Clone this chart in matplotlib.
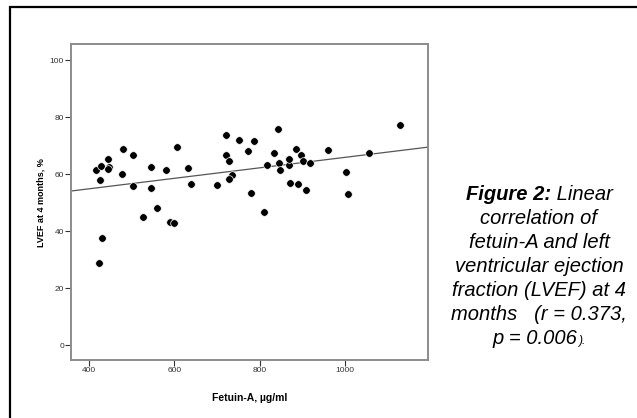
import numpy as np
import matplotlib
matplotlib.use("Agg")
import matplotlib.pyplot as plt
from matplotlib.patches import Rectangle

plt.rcParams['font.family'] = ['Liberation Sans', 'DejaVu Sans']

# Fetuin-A (ug/ml) vs LVEF at 4 months (%)
fetuin = [418, 429, 427, 444, 448, 445, 432, 424, 481, 478,
          503, 503, 545, 545, 527, 560, 581, 589, 599, 607,
          633, 639, 700, 721, 721, 729, 735, 728, 752, 773,
          787, 779, 811, 817, 833, 842, 845, 848, 868, 868,
          870, 884, 890, 897, 901, 909, 917, 960, 1001, 1006,
          1056, 1127]
lvef = [61.4, 63.0, 57.9, 65.5, 62.6, 61.7, 37.5, 29.0, 68.8, 60.2,
        66.9, 55.7, 62.7, 55.2, 45.1, 48.2, 61.4, 43.3, 42.9, 69.5,
        62.3, 56.7, 56.2, 73.9, 66.7, 64.8, 59.8, 58.2, 72.0, 68.1,
        71.6, 53.4, 46.8, 63.2, 67.3, 76.0, 64.1, 61.5, 63.3, 65.5,
        57.0, 68.7, 56.5, 66.6, 64.8, 54.4, 64.0, 68.5, 60.7, 52.9,
        67.6, 77.3]

x_ticks = [400, 600, 800, 1000]
y_ticks = [0, 20, 40, 60, 80, 100]

caption = ["correlation of", "fetuin-A and left", "ventricular ejection",
           "fraction (LVEF) at 4", "months   (r = 0.373,"]

fig = plt.figure(figsize=(6.37, 4.18), dpi=100)
ax = fig.add_axes([71 / 637, 1 - 360 / 418, 357 / 637, 315.7 / 418])

ax.scatter(fetuin, lvef, s=30, c='black', edgecolors='white', linewidths=0.5, zorder=3)

# least squares fit line across the whole x range
xlim = (358.6, 1193.3)
slope, icpt = np.polyfit(fetuin, lvef, 1)
xs = np.array(xlim)
ax.plot(xs, icpt + slope * xs, color='#555555', lw=0.9, zorder=2)

ax.set_xlim(xlim)
ax.set_ylim(-5.2, 105.6)
ax.set_xticks(x_ticks)
ax.set_yticks(y_ticks)
ax.tick_params(labelsize=6, colors='#333333', length=4, width=0.8, pad=1)
for sp in ax.spines.values():
    sp.set_color('#8c8c8c')
    sp.set_linewidth(1.4)
ax.set_xlabel('Fetuin-A, µg/ml', fontsize=7.5, fontweight='bold', labelpad=14)
ax.set_ylabel('LVEF at 4 months, %', fontsize=6.5, fontweight='bold', labelpad=3)

# outer frame (only left/top edges visible in the crop)
fig.add_artist(Rectangle((10 / 637, -0.1), 1.0, 1.1 - 6.5 / 418, transform=fig.transFigure,
                         fill=False, lw=1.6, ec='black', clip_on=False))

# caption on the right
cx = 539 / 637
fs = 14.5
y0 = 1 - 194 / 418
dy = 24 / 418
fig.canvas.draw()
r = fig.canvas.get_renderer()
t1 = fig.text(0, y0, 'Figure 2:', fontsize=fs, fontweight='bold', style='italic', va='center')
t2 = fig.text(0, y0, ' Linear', fontsize=fs, style='italic', va='center')
w1 = t1.get_window_extent(r).width / fig.bbox.width
w2 = t2.get_window_extent(r).width / fig.bbox.width
t1.set_x(cx - (w1 + w2) / 2)
t2.set_x(cx - (w1 + w2) / 2 + w1)
for i, line in enumerate(caption):
    fig.text(cx, y0 - (i + 1) * dy, line, fontsize=fs, style='italic', ha='center', va='center')
yl = y0 - (len(caption) + 1) * dy
t3 = fig.text(0, yl, 'p = 0.006', fontsize=fs, style='italic', va='center')
t4 = fig.text(0, yl, ').', fontsize=fs * 0.6, style='italic', va='center')
w3 = t3.get_window_extent(r).width / fig.bbox.width
w4 = t4.get_window_extent(r).width / fig.bbox.width
t3.set_x(cx - (w3 + w4) / 2)
t4.set_x(cx - (w3 + w4) / 2 + w3)
t4.set_y(yl - 3 / 418)

fig.savefig('out.png', dpi=100)
